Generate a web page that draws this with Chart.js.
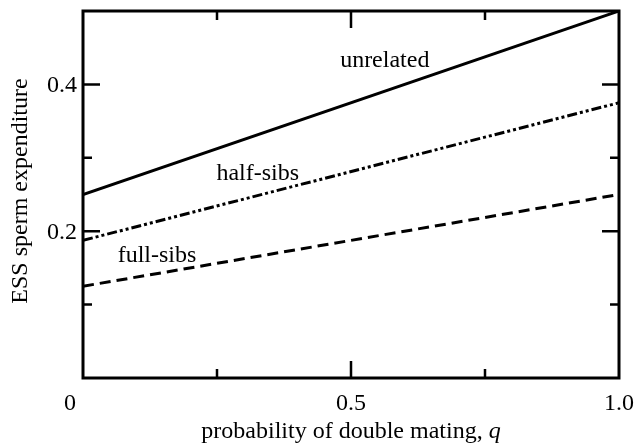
<!DOCTYPE html>
<html>
<head>
<meta charset="utf-8">
<script src="https://cdn.jsdelivr.net/npm/chart.js@4/dist/chart.umd.min.js"></script>
<style>
  html, body { margin: 0; padding: 0; background: #fff; }
  canvas { display: block; }
</style>
</head>
<body>
<canvas id="grafico" width="637" height="446"></canvas>
<script>
// q values at the ends of each line
const q = [0, 1];
const unrelated = [0.25, 0.5];
const halfSibs = [0.1875, 0.375];
const fullSibs = [0.125, 0.25];

// tick values and labels
const xMajor = [0, 0.5, 1];
const xMinor = [0.25, 0.75];
const xTickLabels = ['0', '0.5', '1.0'];
const yMajor = [0.2, 0.4];
const yMinor = [0.1, 0.3];
const yTickLabels = ['0.2', '0.4'];

// curve names placed in data units (centre x, baseline y)
const curveLabels = [
  ['unrelated', 0.563, 0.424],
  ['half-sibs', 0.326, 0.270],
  ['full-sibs', 0.138, 0.158],
];

const FONT = '24px "Liberation Serif", "Times New Roman", serif';
const ITALIC = 'italic 24px "Liberation Serif", "Times New Roman", serif';

const pts = (ys) => q.map((x, i) => ({ x, y: ys[i] }));

// frame, inward ticks, tick labels, titles and curve names
const ejes = {
  id: 'ejes',
  afterDraw(chart) {
    const { ctx, chartArea: a, scales } = chart;
    const xs = scales.x, ys = scales.y;
    ctx.save();
    ctx.strokeStyle = '#000';
    ctx.fillStyle = '#000';
    ctx.lineWidth = 3;
    ctx.strokeRect(a.left, a.top, a.right - a.left, a.bottom - a.top);

    ctx.lineWidth = 2.5;
    const tickX = (v, len) => {
      const px = xs.getPixelForValue(v);
      ctx.beginPath();
      ctx.moveTo(px, a.bottom); ctx.lineTo(px, a.bottom - len);
      ctx.moveTo(px, a.top); ctx.lineTo(px, a.top + len);
      ctx.stroke();
    };
    const tickY = (v, len) => {
      const py = ys.getPixelForValue(v);
      ctx.beginPath();
      ctx.moveTo(a.left, py); ctx.lineTo(a.left + len, py);
      ctx.moveTo(a.right, py); ctx.lineTo(a.right - len, py);
      ctx.stroke();
    };
    xMajor.slice(1, -1).forEach((v) => tickX(v, 17));
    xMinor.forEach((v) => tickX(v, 9));
    yMajor.forEach((v) => tickY(v, 17));
    yMinor.forEach((v) => tickY(v, 9));

    ctx.font = FONT;
    ctx.textBaseline = 'alphabetic';
    ctx.textAlign = 'center';
    xMajor.forEach((v, i) => {
      let px = xs.getPixelForValue(v);
      if (i === 0) px -= 13;
      ctx.fillText(xTickLabels[i], px, 410);
    });
    ctx.textAlign = 'right';
    yMajor.forEach((v, i) => {
      ctx.fillText(yTickLabels[i], a.left - 6, ys.getPixelForValue(v) + 8);
    });

    // x title with italic q
    const t1 = 'probability of double mating, ';
    const t2 = 'q';
    ctx.font = FONT;
    const w1 = ctx.measureText(t1).width;
    ctx.font = ITALIC;
    const w2 = ctx.measureText(t2).width;
    const x0 = (a.left + a.right) / 2 - (w1 + w2) / 2;
    ctx.textAlign = 'left';
    ctx.font = FONT;
    ctx.fillText(t1, x0, 438);
    ctx.font = ITALIC;
    ctx.fillText(t2, x0 + w1, 438);

    // y title
    ctx.font = FONT;
    ctx.save();
    ctx.translate(27, 191);
    ctx.rotate(-Math.PI / 2);
    ctx.textAlign = 'center';
    ctx.fillText('ESS sperm expenditure', 0, 0);
    ctx.restore();

    ctx.textAlign = 'center';
    curveLabels.forEach(([txt, vx, vy]) => {
      ctx.fillText(txt, xs.getPixelForValue(vx), ys.getPixelForValue(vy));
    });
    ctx.restore();
  },
};

new Chart(document.getElementById('grafico'), {
  type: 'line',
  data: {
    datasets: [
      { label: 'unrelated', data: pts(unrelated), borderColor: '#000', borderWidth: 3, borderCapStyle: 'butt' },
      { label: 'half-sibs', data: pts(halfSibs), borderColor: '#000', borderWidth: 3, borderCapStyle: 'butt', borderDash: [10, 3, 3, 3, 3, 3] },
      { label: 'full-sibs', data: pts(fullSibs), borderColor: '#000', borderWidth: 3, borderCapStyle: 'butt', borderDash: [11, 6] },
    ],
  },
  options: {
    responsive: false,
    devicePixelRatio: 1,
    animation: false,
    layout: { padding: { left: 83, right: 18, top: 11, bottom: 68 } },
    elements: { point: { radius: 0 }, line: { tension: 0 } },
    plugins: { legend: { display: false }, tooltip: { enabled: false } },
    scales: {
      x: { type: 'linear', min: 0, max: 1, display: false },
      y: { type: 'linear', min: 0, max: 0.5, display: false },
    },
  },
  plugins: [ejes],
});
</script>
</body>
</html>
